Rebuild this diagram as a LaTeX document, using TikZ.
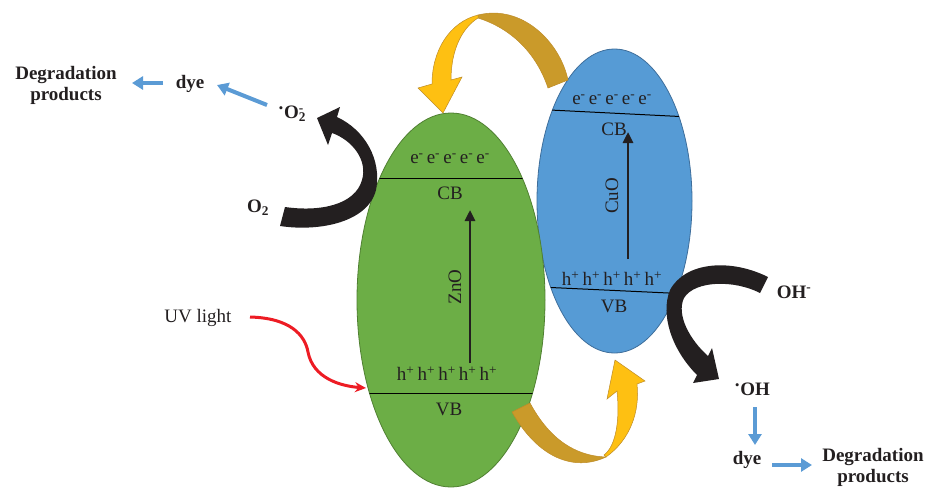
\documentclass[tikz,border=0pt]{standalone}
\usepackage{fontspec}
\setmainfont{Liberation Serif}
\usetikzlibrary{arrows.meta}
\definecolor{znofill}{RGB}{108,174,70}
\definecolor{znoline}{RGB}{80,128,50}
\definecolor{cuofill}{RGB}{86,155,213}
\definecolor{cuoline}{RGB}{62,110,155}
\definecolor{ribbonlight}{RGB}{254,192,18}
\definecolor{ribbondark}{RGB}{202,154,42}
\definecolor{ribbonedge}{RGB}{190,140,40}
\definecolor{darkarrow}{RGB}{35,31,32}
\definecolor{flowblue}{RGB}{91,155,213}
\definecolor{uvred}{RGB}{237,28,36}
\definecolor{txt}{RGB}{35,31,32}
\newcommand{\eminus}{e\textsuperscript{-}}
\newcommand{\hplus}{h\textsuperscript{+}}
\begin{document}
\begin{tikzpicture}[x=1pt,y=-1pt,
  lbl/.style={text=txt,font=\fontsize{19}{22}\selectfont,inner sep=1pt},
  blbl/.style={lbl,font=\fontsize{19}{21}\selectfont\bfseries,align=center},
  band/.style={draw=black,line width=1pt},
  gap/.style={-{Triangle[length=11pt,width=10pt]},line width=2.6pt,draw=txt},
  flow/.style={-{Triangle[length=11pt,width=13pt]},line width=4pt,draw=flowblue},
  ribbonA/.style={fill=ribbonlight,draw=ribbonedge,line width=0.5pt},
  ribbonB/.style={fill=ribbondark,draw=ribbonedge,line width=0.5pt},
  bent/.style={fill=darkarrow}]
\useasboundingbox (0,0) rectangle (932,488);

% CuO particle (behind)
\fill[cuofill] (614.5,201) ellipse [x radius=77.5pt, y radius=152pt];
\draw[cuoline,line width=0.8pt] (614.5,201) ellipse [x radius=77.5pt, y radius=152pt];
\begin{scope}
  \clip (614.5,201) ellipse [x radius=77.5pt, y radius=152pt];
  \draw[band] (540,109.5) -- (690,117);
  \draw[band] (540,287) -- (690,294);
\end{scope}

% ZnO particle (front)
\fill[znofill] (451,300) ellipse [x radius=94pt, y radius=187pt];
\draw[znoline,line width=0.8pt] (451,300) ellipse [x radius=94pt, y radius=187pt];
\begin{scope}
  \clip (451,300) ellipse [x radius=94pt, y radius=187pt];
  \draw[band] (350,178) -- (550,178);
  \draw[band] (350,393) -- (550,393);
\end{scope}

% ZnO levels
\node[lbl] (zcbe) at (450,159) {\eminus\,\eminus\,\eminus\,\eminus\,\eminus};
\node[lbl] (zcb) at (450,193) {CB};
\node[lbl] (zvbh) at (447,374) {\hplus\,\hplus\,\hplus\,\hplus\,\hplus};
\node[lbl] (zvb) at (449,409) {VB};
\node[lbl,rotate=90] (zno) at (455,287) {ZnO};
\coordinate (zlow) at (470,363);
\coordinate (zhigh) at (470,210);
\draw[gap] (zlow) -- (zhigh);

% CuO levels
\node[lbl] (ccbe) at (612,100) {\eminus\,\eminus\,\eminus\,\eminus\,\eminus};
\node[lbl] (ccb) at (614,129) {CB};
\node[lbl] (cvbh) at (612,279) {\hplus\,\hplus\,\hplus\,\hplus\,\hplus};
\node[lbl] (cvb) at (614,306) {VB};
\node[lbl,rotate=90] (cuo) at (612,196) {CuO};
\coordinate (clow) at (628,259);
\coordinate (chigh) at (628,132);
\draw[gap] (clow) -- (chigh);

% electron transfer ribbon (CuO -> ZnO)
\path[ribbonB] (478,15) .. controls (522,4) and (560,42) .. (568,80)
  -- (548,88) .. controls (536,52) and (510,28) .. (478,18) -- cycle;
\path[ribbonA] (478,15) .. controls (450,22) and (432,50) .. (432,84)
  -- (418,88) -- (443,113) -- (462,77) -- (451,80)
  .. controls (451,50) and (462,28) .. (478,18) -- cycle;

% hole transfer ribbon (ZnO -> CuO)
\path[ribbonB] (512,412) .. controls (538,458) and (574,472) .. (606,457)
  .. controls (576,456) and (550,440) .. (530,403) -- cycle;
\path[ribbonA] (606,457) .. controls (630,440) and (640,412) .. (637,384)
  -- (645,381) -- (615,360) -- (607,399) -- (617,391)
  .. controls (620,420) and (616,446) .. (604,455) -- cycle;

% O2 -> .O2- on the ZnO side
\path[bent] (337,117) .. controls (365,130) and (382,160) .. (376,190)
  .. controls (368,222) and (320,232) .. (280,226)
  -- (285,207) .. controls (320,212) and (355,205) .. (362,180)
  .. controls (368,160) and (352,140) .. (332,133)
  -- (328,145) -- (317,118) -- (340,107) -- cycle;

% OH- -> .OH on the CuO side
\path[bent] (768,277) .. controls (730,258) and (685,262) .. (670,290)
  .. controls (660,315) and (672,350) .. (697,375)
  -- (693,383) -- (719,379) -- (712,348) -- (708,356)
  .. controls (690,340) and (676,315) .. (684,298)
  .. controls (695,280) and (735,280) .. (760,293) -- cycle;

% labels outside
\node[blbl] (o2) at (258,208) {O\textsubscript{2}};
\node[blbl] (o2rad) at (292,114) {\raisebox{0.45ex}{·}O\rlap{\textsuperscript{-}}\textsubscript{2}};
\node[blbl] (dyeA) at (190,84) {dye};
\node[blbl] (degA) at (66,85) {Degradation\\products};
\node[blbl] (ohm) at (794,292) {OH\textsuperscript{-}};
\node[blbl] (ohrad) at (752,389) {\raisebox{0.45ex}{·}OH};
\node[blbl] (dyeB) at (747,460) {dye};
\node[blbl] (degB) at (873,467) {Degradation\\products};
\node[lbl] (uv) at (198,318) {UV light};

% radical/dye flow arrows
\coordinate (fa1) at (267,105);
\coordinate (fa2) at (217,85);
\coordinate (fb1) at (163,83);
\coordinate (fb2) at (132,83);
\coordinate (fc1) at (755,407);
\coordinate (fc2) at (755,445);
\coordinate (fd1) at (772,465);
\coordinate (fd2) at (812,465);
\draw[flow] (fa1) -- (fa2);
\draw[flow] (fb1) -- (fb2);
\draw[flow] (fc1) -- (fc2);
\draw[flow] (fd1) -- (fd2);

% UV irradiation
\coordinate (uvstart) at (250,317);
\coordinate (uvend) at (366,388);
\draw[uvred,line width=3pt,-{Stealth[length=11pt,width=10pt]}]
  (uvstart) .. controls (290,318) and (305,335) .. (308,352)
  .. controls (313,378) and (340,386) .. (uvend);
\end{tikzpicture}
\end{document}
